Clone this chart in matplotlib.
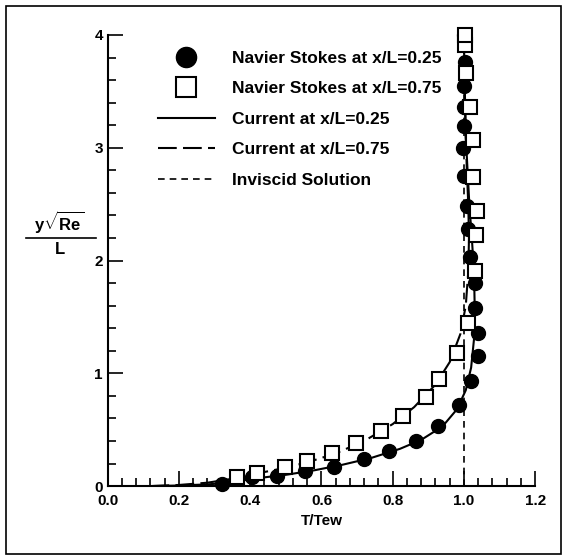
import matplotlib.pyplot as plt
import numpy as np
from matplotlib.ticker import MultipleLocator
from matplotlib.lines import Line2D
from matplotlib.patches import Rectangle

plt.rcParams['font.family'] = ['Liberation Sans', 'DejaVu Sans']
plt.rcParams['font.weight'] = 'bold'
plt.rcParams['mathtext.fontset'] = 'custom'
plt.rcParams['mathtext.rm'] = 'Liberation Sans:bold'
plt.rcParams['mathtext.it'] = 'Liberation Sans:bold'
plt.rcParams['mathtext.bf'] = 'Liberation Sans:bold'

# Navier Stokes at x/L=0.25 (circles)
ns25_T = [0.32, 0.405, 0.476, 0.554, 0.634, 0.719, 0.79, 0.866, 0.928, 0.987,
          1.02, 1.04, 1.04, 1.03, 1.03, 1.018, 1.01, 1.008, 1.0, 0.997,
          1.0, 1.0, 1.0, 1.002, 1.0]
ns25_y = [0.02, 0.08, 0.09, 0.13, 0.17, 0.24, 0.31, 0.40, 0.53, 0.72,
          0.93, 1.15, 1.36, 1.58, 1.80, 2.03, 2.28, 2.48, 2.75, 3.0,
          3.19, 3.36, 3.55, 3.76, 4.0]

# Navier Stokes at x/L=0.75 (squares)
ns75_T = [0.363, 0.42, 0.498, 0.56, 0.63, 0.698, 0.766, 0.83, 0.894, 0.93,
          0.98, 1.01, 1.03, 1.035, 1.037, 1.024, 1.024, 1.018, 1.007, 1.004,
          1.004]
ns75_y = [0.08, 0.12, 0.17, 0.22, 0.29, 0.38, 0.49, 0.62, 0.79, 0.95,
          1.18, 1.45, 1.91, 2.23, 2.44, 2.74, 3.07, 3.36, 3.66, 3.91,
          4.0]

# Current solutions
cur25_T = [0.12, 0.2, 0.28, 0.34, 0.42, 0.5, 0.58, 0.66, 0.74, 0.82, 0.88,
           0.94, 0.98, 1.005, 1.02, 1.028, 1.03, 1.028, 1.022, 1.015, 1.01,
           1.005, 1.003, 1.001, 1.0]
cur25_y = [0.0, 0.005, 0.015, 0.03, 0.07, 0.1, 0.14, 0.19, 0.25, 0.33, 0.41,
           0.53, 0.68, 0.85, 1.05, 1.3, 1.6, 1.9, 2.2, 2.5, 2.8,
           3.1, 3.4, 3.7, 4.0]
cur75_T = [0.12, 0.2, 0.28, 0.34, 0.4, 0.48, 0.56, 0.64, 0.72, 0.8, 0.86,
           0.92, 0.96, 0.99, 1.005, 1.012, 1.014, 1.012, 1.008, 1.005, 1.003,
           1.001, 1.0]
cur75_y = [0.0, 0.01, 0.03, 0.06, 0.1, 0.15, 0.21, 0.29, 0.4, 0.55, 0.7,
           0.9, 1.1, 1.35, 1.6, 1.9, 2.2, 2.5, 2.8, 3.1, 3.4,
           3.7, 4.0]

# Inviscid solution
inv_T = [1.0, 1.0]
inv_y = [0.0, 4.0]

fig = plt.figure(figsize=(5.67, 5.6), dpi=100)
ax = fig.add_axes([0.190, 0.132, 0.754, 0.8055])

ax.plot(cur25_T, cur25_y, 'k-', lw=1.5, label='Current at x/L=0.25')
ax.plot(cur75_T, cur75_y, 'k', ls=(0, (9, 3)), lw=1.5, label='Current at x/L=0.75')
ax.plot(inv_T, inv_y, 'k', ls=(0, (4, 3)), lw=1.2, label='Inviscid Solution')
ax.plot(ns25_T, ns25_y, 'o', color='k', ms=10, ls='none',
        label='Navier Stokes at x/L=0.25', clip_on=False)
ax.plot(ns75_T, ns75_y, 's', mfc='white', mec='k', mew=1.5, ms=9.5, ls='none',
        label='Navier Stokes at x/L=0.75', clip_on=False)

ax.set_xlim(0, 1.2)
ax.set_ylim(0, 4)
ax.xaxis.set_major_locator(MultipleLocator(0.2))
ax.xaxis.set_minor_locator(MultipleLocator(0.04))
ax.yaxis.set_major_locator(MultipleLocator(1))
ax.yaxis.set_minor_locator(MultipleLocator(0.2))
ax.xaxis.set_major_formatter(plt.FormatStrFormatter('%.1f'))
ax.tick_params(which='both', direction='in', width=1.2, labelsize=11)
ax.tick_params(which='major', length=11)
ax.tick_params(which='minor', length=6)
ax.tick_params(axis='x', pad=6)
for s in ['top', 'right']:
    ax.spines[s].set_visible(False)
for s in ['left', 'bottom']:
    ax.spines[s].set_linewidth(1.5)

ax.set_xlabel('T/Tew', fontsize=11, fontweight='bold', labelpad=4)

handles, labels = ax.get_legend_handles_labels()
order = [3, 4, 0, 1, 2]
ax.legend([handles[i] for i in order], [labels[i] for i in order],
          loc='upper left', bbox_to_anchor=(0.117, 0.965), frameon=False,
          borderpad=0, borderaxespad=0,
          fontsize=12.5, markerscale=1.45, handlelength=3.3, labelspacing=0.88,
          handletextpad=1.0)

# y label as a fraction
fig.text(0.105, 0.58, r'$y\sqrt{Re}$', ha='center', va='bottom', fontsize=12)
fig.add_artist(Line2D([0.045, 0.17], [0.575, 0.575], color='k', lw=1.2))
fig.text(0.105, 0.568, 'L', ha='center', va='top', fontsize=12, fontweight='bold')

# outer frame
fig.add_artist(Rectangle((0.01, 0.01), 0.98, 0.98, transform=fig.transFigure,
                         fill=False, ec='k', lw=1.2))

fig.savefig('out.png', dpi=100)
